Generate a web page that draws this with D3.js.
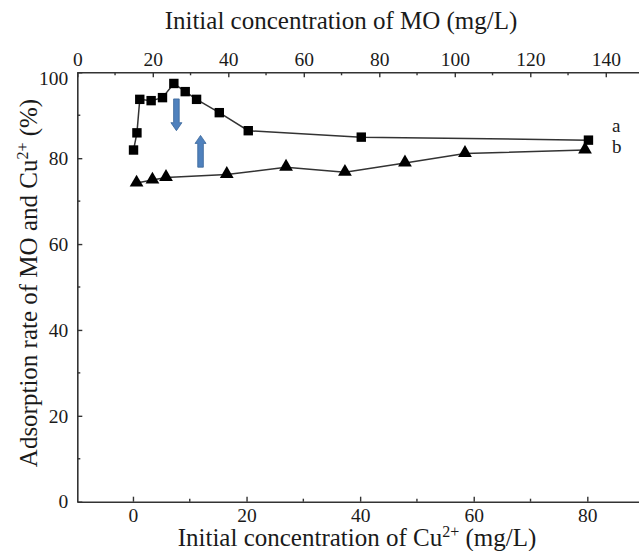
<!DOCTYPE html>
<html>
<head>
<meta charset="utf-8">
<script src="https://cdn.jsdelivr.net/npm/d3@7"></script>
<style>
  body { margin: 0; background: #fff; }
  svg text { font-family: "Times New Roman", "Liberation Serif", Tinos, Times, "DejaVu Serif", serif !important; fill: #1a1a1a; }
</style>
</head>
<body>
<svg id="chart" width="639" height="551"></svg>
<script>
// curve a (squares) - read against the bottom axis, Cu2+ (mg/L)
var cuConc = [0.1, 0.7, 1.2, 3.2, 5.2, 7.2, 9.2, 11.2, 15.2, 20.3, 40.2, 80.2]
var rateA = [81.9, 85.9, 93.7, 93.4, 94.1, 97.4, 95.5, 93.7, 90.6, 86.4, 84.9, 84.2]

// curve b (triangles) - read against the top axis, MO (mg/L)
var moConc = [15.7, 19.9, 23.5, 39.6, 55.3, 70.9, 86.8, 102.7, 134.5]
var rateB = [74.2, 74.9, 75.5, 76.2, 77.9, 76.7, 78.9, 81.1, 81.9]

var cuTicks = [0, 20, 40, 60, 80]
var moTicks = [0, 20, 40, 60, 80, 100, 120, 140]
var rateTicks = [0, 20, 40, 60, 80, 100]

// blue arrows (on the Cu axis): [x, from, to]
var arrows = [[7.65, 93.8, 86.4], [11.9, 77.9, 85.3]]

var serif = '"Times New Roman", "Liberation Serif", Tinos, Times, "DejaVu Serif", serif'

var svg = d3.select('#chart')
var plotLeft = 77.3, plotRight = 639, plotTop = 72.3, plotBottom = 501.7

var xCu = d3.scaleLinear().domain([-9.8, 89.1]).range([plotLeft, plotRight])
var xMO = d3.scaleLinear().domain([0, 148.8]).range([plotLeft, plotRight])
var y = d3.scaleLinear().domain([0, 100]).range([plotBottom, plotTop])

var axisColor = '#333'
var tickFont = 19.5

// Bottom axis (ticks inward)
var gBottom = svg.append('g').attr('transform', 'translate(0,' + plotBottom + ')')
    .call(d3.axisBottom(xCu).tickValues(cuTicks).tickSizeInner(-5).tickSizeOuter(0).tickPadding(6))
gBottom.selectAll('.minor').data([10, 30, 50, 70]).enter().append('line')
    .attr('class', 'minor')
    .attr('x1', function (d) { return xCu(d) }).attr('x2', function (d) { return xCu(d) })
    .attr('y1', 0).attr('y2', -3)

// Top axis
var gTop = svg.append('g').attr('transform', 'translate(0,' + plotTop + ')')
    .call(d3.axisTop(xMO).tickValues(moTicks).tickSizeInner(-5).tickSizeOuter(0).tickPadding(6))
gTop.selectAll('.minor').data([10, 30, 50, 70, 90, 110, 130]).enter().append('line')
    .attr('class', 'minor')
    .attr('x1', function (d) { return xMO(d) }).attr('x2', function (d) { return xMO(d) })
    .attr('y1', 0).attr('y2', 3)

// Left axis
var gLeft = svg.append('g').attr('transform', 'translate(' + plotLeft + ',0)')
    .call(d3.axisLeft(y).tickValues(rateTicks).tickSizeInner(-5).tickSizeOuter(0).tickPadding(9))
gLeft.selectAll('.tick text')
    .attr('y', function (d) { return d === 100 ? 6 : 0 })
gLeft.selectAll('.minor').data([10, 30, 50, 70, 90]).enter().append('line')
    .attr('class', 'minor')
    .attr('y1', function (d) { return y(d) }).attr('y2', function (d) { return y(d) })
    .attr('x1', 0).attr('x2', 3)

svg.selectAll('g').attr('font-family', serif)
svg.selectAll('.tick text').attr('font-size', tickFont).attr('font-family', serif)
svg.selectAll('.domain').attr('stroke', axisColor).attr('stroke-width', 1.6)
svg.selectAll('.tick line, .minor').attr('stroke', axisColor).attr('stroke-width', 1.4)

// Lines
var lineA = d3.line().x(function (d, i) { return xCu(cuConc[i]) }).y(function (d) { return y(d) })
var lineB = d3.line().x(function (d, i) { return xMO(moConc[i]) }).y(function (d) { return y(d) })

svg.append('path').datum(rateA).attr('d', lineA)
    .attr('fill', 'none').attr('stroke', '#333').attr('stroke-width', 1.5)
svg.append('path').datum(rateB).attr('d', lineB)
    .attr('fill', 'none').attr('stroke', '#333').attr('stroke-width', 1.5)

// Markers
svg.selectAll('.sq').data(rateA).enter().append('rect')
    .attr('class', 'sq')
    .attr('x', function (d, i) { return xCu(cuConc[i]) - 4.7 })
    .attr('y', function (d) { return y(d) - 4.7 })
    .attr('width', 9.4).attr('height', 9.4)
    .attr('fill', '#000')

svg.selectAll('.tri').data(rateB).enter().append('path')
    .attr('class', 'tri')
    .attr('d', d3.symbol().type(d3.symbolTriangle).size(82))
    .attr('transform', function (d, i) { return 'translate(' + xMO(moConc[i]) + ',' + (y(d) - 0.5) + ')' })
    .attr('fill', '#000')

// Arrows
arrows.forEach(function (a) {
    var x0 = xCu(a[0]), y0 = y(a[1]), y1 = y(a[2])
    var dir = y1 > y0 ? 1 : -1
    var head = 8, sw = 2.8, hw = 5.5
    var pts = [
        [x0 - sw, y0], [x0 + sw, y0], [x0 + sw, y1 - dir * head], [x0 + hw, y1 - dir * head],
        [x0, y1], [x0 - hw, y1 - dir * head], [x0 - sw, y1 - dir * head]
    ]
    svg.append('path')
        .attr('d', 'M' + pts.join('L') + 'Z')
        .attr('fill', '#4f81bd').attr('stroke', '#3a6699').attr('stroke-width', 0.8)
})

// Curve labels
svg.append('text').attr('x', 612).attr('y', 132).attr('font-size', 19).attr('font-family', serif).text('a')
svg.append('text').attr('x', 612).attr('y', 153).attr('font-size', 19).attr('font-family', serif).text('b')

// Titles
svg.append('text').attr('x', 341).attr('y', 29).attr('text-anchor', 'middle')
    .attr('font-family', serif).attr('font-size', 25).text('Initial concentration of MO (mg/L)')

var bt = svg.append('text').attr('x', 357).attr('y', 546).attr('text-anchor', 'middle')
    .attr('font-family', serif).attr('font-size', 25)
bt.append('tspan').text('Initial concentration of Cu')
bt.append('tspan').attr('font-size', 16).attr('dy', -9).text('2+')
bt.append('tspan').attr('dy', 9).text(' (mg/L)')

var yt = svg.append('text').attr('transform', 'translate(37,283) rotate(-90)')
    .attr('text-anchor', 'middle').attr('font-family', serif).attr('font-size', 25)
yt.append('tspan').text('Adsorption rate of MO and Cu')
yt.append('tspan').attr('font-size', 16).attr('dy', -9).text('2+')
yt.append('tspan').attr('dy', 9).text(' (%)')
</script>
</body>
</html>
